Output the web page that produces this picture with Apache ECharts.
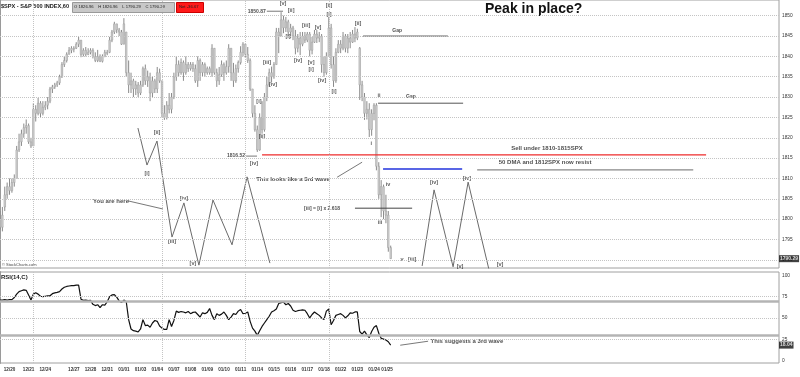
<!DOCTYPE html>
<html>
<head>
<meta charset="utf-8">
<title>$SPX - Peak in place?</title>
<script src="https://cdn.jsdelivr.net/npm/echarts@6/dist/echarts.min.js"></script>
<style>
html, body { margin: 0; padding: 0; background: #fff; }
#chart { width: 800px; height: 377px; }
</style>
</head>
<body>
<div id="chart"></div>
<script>
// hourly bars, one per slot: [open, close, low, high]
const priceBars = [
  [1800, 1798, 1797.5, 1802], [1798, 1801, 1797, 1803], [1803, 1806, 1802, 1808], [1806, 1808, 1805, 1809],
  [1808, 1807, 1806, 1810], [1807, 1809, 1806.5, 1810], [1809, 1810, 1808, 1811], [1810, 1817, 1810, 1818],
  [1817, 1819, 1816.5, 1821], [1819, 1821, 1818, 1822], [1821, 1822.5, 1820, 1823.5], [1822.5, 1823, 1821, 1824.5],
  [1823, 1819, 1818.5, 1823.5], [1819, 1818, 1817.5, 1820], [1818, 1827, 1818, 1828.5], [1827, 1826, 1824, 1828],
  [1826, 1828.5, 1825.5, 1829.8], [1828.5, 1826, 1825, 1829], [1826, 1827.5, 1825.5, 1829], [1827.5, 1828, 1826.8, 1829],
  [1828, 1829, 1827, 1830], [1829, 1832, 1828.5, 1832.5], [1832, 1832.5, 1831, 1833], [1832.5, 1833, 1832, 1833.5],
  [1833, 1833.5, 1832.5, 1834], [1833.5, 1835, 1833, 1835.5], [1835, 1838, 1834.7, 1838.6], [1838, 1839, 1837.4, 1840],
  [1839, 1840.5, 1838.5, 1841], [1840.5, 1841.5, 1840.5, 1842.3], [1841.5, 1842, 1840.8, 1842.5], [1842, 1842, 1841, 1842.5],
  [1842, 1843, 1841.8, 1843.5], [1843, 1844, 1842.3, 1844.8], [1844, 1840.5, 1839.8, 1844], [1840.5, 1841.5, 1840, 1842],
  [1841.5, 1840.5, 1840, 1842.3], [1840.5, 1841, 1840.3, 1842], [1841, 1841.5, 1840.5, 1842], [1841.5, 1840, 1839.5, 1842],
  [1840, 1839, 1838.6, 1841], [1839, 1840, 1838.6, 1841.6], [1840, 1838.8, 1838.6, 1840.5], [1838.8, 1840, 1838.5, 1840.5],
  [1840, 1841, 1839.8, 1841.6], [1841, 1841, 1840.3, 1841.6], [1841, 1844, 1840.8, 1844.8], [1844, 1846, 1843.5, 1846.5],
  [1846, 1848, 1845.5, 1848.5], [1848, 1846.5, 1845.7, 1848], [1846.5, 1846, 1845, 1847], [1846, 1843, 1842.8, 1846.5],
  [1843, 1848, 1843, 1849.4], [1846, 1836, 1835, 1846], [1836, 1833, 1831, 1839], [1833, 1834, 1831, 1836],
  [1834, 1832, 1830, 1834.5], [1832, 1833, 1830.5, 1834], [1833, 1831, 1830, 1833.7], [1831, 1833, 1830.5, 1834],
  [1833, 1837, 1832.5, 1837.5], [1837, 1834, 1833, 1838], [1834, 1835, 1832.5, 1836.5], [1835, 1831, 1829, 1836],
  [1831, 1834, 1830, 1835], [1834, 1832, 1831, 1834.5], [1832, 1836, 1831, 1837.4], [1836, 1834, 1833.5, 1837],
  [1834, 1826, 1825, 1834], [1826, 1825, 1824.4, 1828], [1825, 1828, 1824.5, 1829], [1828, 1827, 1826, 1831],
  [1827, 1830, 1826, 1831], [1830, 1835, 1829.5, 1836], [1835, 1838, 1834, 1840], [1838, 1836, 1835, 1839],
  [1836, 1838.5, 1835.5, 1839.5], [1838.5, 1836, 1834, 1839], [1836, 1838, 1835.5, 1840], [1838, 1837, 1836.2, 1838.6],
  [1837, 1838, 1836.5, 1838.6], [1838, 1837, 1836.2, 1838.6], [1837, 1834, 1833.5, 1838], [1834, 1839, 1832.5, 1840],
  [1839, 1836, 1834, 1839.5], [1836, 1838, 1835, 1838.6], [1838, 1836, 1835, 1838.5], [1836, 1837, 1835.5, 1837.5],
  [1837, 1836, 1835.5, 1837.5], [1836, 1842, 1835, 1843], [1842, 1836, 1835.5, 1842], [1836, 1834, 1832.5, 1837],
  [1834, 1835.5, 1833, 1837.4], [1835.5, 1838, 1835, 1839], [1838, 1836, 1834, 1838.5], [1836, 1837.5, 1835.5, 1839],
  [1837.5, 1842, 1836, 1843], [1842, 1836, 1834, 1842], [1836, 1834, 1832.5, 1838.4], [1834, 1837, 1833.5, 1838],
  [1837, 1838.5, 1836, 1839], [1838.5, 1841, 1838, 1842.5], [1841, 1843, 1840, 1843.5], [1843, 1840.5, 1839.6, 1843.2],
  [1840.5, 1839, 1838.4, 1842.3], [1839, 1832, 1831.5, 1839.5], [1832, 1826, 1825, 1832], [1826, 1822, 1821.5, 1828],
  [1822, 1817, 1816.52, 1823], [1817, 1825, 1816.8, 1826], [1825, 1822, 1821, 1829], [1822, 1830, 1821.5, 1831],
  [1830, 1833, 1829, 1835], [1833, 1836, 1832.5, 1837], [1836, 1835, 1833.7, 1837.5], [1835, 1838, 1834.5, 1838.6],
  [1838, 1846, 1838, 1847], [1846, 1845, 1840.8, 1847], [1845, 1849, 1845, 1850.87], [1849, 1847, 1845.7, 1850],
  [1847, 1848.5, 1846, 1849.7], [1848.5, 1846, 1845, 1849], [1846, 1847, 1844.5, 1848], [1847, 1845, 1844, 1847.5],
  [1845, 1842, 1840.5, 1846.5], [1842, 1844.5, 1841, 1845.5], [1844.5, 1843, 1840.3, 1846], [1843, 1845, 1842.5, 1846],
  [1845, 1844, 1843.3, 1846], [1844, 1845.5, 1843.5, 1846], [1845.5, 1841.5, 1840, 1846], [1841.5, 1843.5, 1840.5, 1844.8],
  [1843.5, 1845.5, 1843.3, 1846.5], [1845.5, 1844.5, 1843.3, 1846.5], [1844.5, 1845, 1843.5, 1846], [1845, 1838, 1836, 1845.5],
  [1838, 1836, 1835, 1840], [1836, 1840, 1835.5, 1841], [1840, 1847, 1840, 1849.7], [1847, 1838, 1837, 1848],
  [1838, 1834, 1832.5, 1840], [1834, 1841, 1833.5, 1842], [1841, 1843, 1840.8, 1844], [1843, 1842, 1840.8, 1844],
  [1842, 1845, 1841.5, 1846], [1845, 1842, 1841, 1845.5], [1842, 1844.5, 1840.8, 1845.5], [1844.5, 1843.5, 1842, 1846],
  [1843.5, 1845.5, 1843.3, 1846.5], [1845.5, 1844.5, 1843.5, 1847.2], [1844.5, 1846, 1844, 1846.8], [1842, 1833, 1829.3, 1842.3],
  [1833, 1830, 1829, 1834], [1830, 1826, 1824.4, 1831], [1826, 1827, 1824.5, 1829], [1827, 1822, 1820.2, 1828.5],
  [1822, 1826, 1820.5, 1827], [1826, 1828, 1824.3, 1828.5], [1828, 1813, 1812, 1828.5], [1813, 1806, 1805, 1814],
  [1806, 1808, 1800.5, 1809.6], [1808, 1802, 1800, 1808.5], [1802, 1801, 1799, 1806], [1801, 1793, 1792, 1802],
  [1793, 1790.29, 1790.29, 1793.5]
];

// RSI(14) per slot
const rsiValues = [
  71, 71, 71.5, 71, 71.5, 71.5, 74, 78, 81, 82, 83, 82.5, 77, 71, 78, 79.5, 78, 75.5, 75, 75.5,
  76, 76, 78.5, 79.5, 80, 81, 84, 86, 87, 87.5, 88, 88, 88.5, 88.5, 72, 70.6, 71, 70.5, 70.6, 66,
  64.5, 65.5, 62, 65.5, 65, 69, 75, 77, 77.5, 74.5, 70, 68, 71, 69, 48, 37, 35, 34.5, 33.5, 37,
  48, 41, 41.5, 39, 44, 47, 46, 40.5, 38, 36.5, 36.5, 48, 40, 47, 58, 56.5, 57.5, 57, 56, 57.5,
  55, 56.5, 57, 54, 51, 56, 55, 56.5, 61, 53, 48, 55, 53, 54.5, 57, 53, 48, 51, 55, 54,
  58, 60, 55, 55.5, 57, 46, 38, 34.5, 29.5, 35, 40, 44, 48, 52, 57, 58.5, 60.5, 67, 68, 68.5,
  65.5, 67, 64, 59, 57.5, 58.5, 59, 59.5, 59, 55, 50, 54, 57, 55, 53, 50, 48, 58, 60.5, 42,
  47, 53, 54, 55, 53, 50, 52.5, 56, 55.5, 57, 57, 34, 31, 34.5, 30, 27, 34, 39, 41, 32,
  26, 25, 24, 22, 18.04
];

const dateSlots = [4, 12, 19, 31, 38, 45, 52, 59, 66, 73, 80, 87, 94, 101, 108, 115, 122, 129, 136, 143, 150, 157, 162.5];
const dateLabels = ['12/20', '12/21', '12/24', '12/27', '12/28', '12/31', '01/01', '01/03', '01/04', '01/07', '01/08',
  '01/09', '01/10', '01/11', '01/14', '01/15', '01/16', '01/17', '01/18', '01/22', '01/23', '01/24', '01/25'];
const weekSlots = [14, 68, 103, 138];

const priceTicks = [1790, 1795, 1800, 1805, 1810, 1815, 1820, 1825, 1830, 1835, 1840, 1845, 1850];
const rsiTicks = [0, 25, 50, 75, 100];

// drawn wave projections [slot, price]
const waveLeft = [[57.9, 1822.4], [61.7, 1813.3], [65.9, 1819.2], [72.2, 1795.6], [77.2, 1804], [83.5, 1788.7],
  [89.4, 1804.7], [97.4, 1793.7], [103.7, 1810.4], [113.3, 1789.2]];
const waveRight = [[177.2, 1788.5], [182.2, 1807.2], [190.2, 1788.3], [196.5, 1809.1], [205.3, 1787.5]];

const waveLabels = [
  [118.8, 1852.9, '[v]'], [122.2, 1851.4, '[ii]'], [120.9, 1844.8, '[i]'], [128.5, 1847.5, '[iii]'],
  [125.1, 1838.9, '[iv]'], [133.5, 1847.2, '[v]'], [130.6, 1838.6, '[v]'], [130.6, 1836.9, '[i]'],
  [138.1, 1852.4, '[ii]'], [138.1, 1850.4, '[i]'], [135.2, 1834.2, '[iv]'], [140.2, 1831.5, '[i]'],
  [150.3, 1848, '[ii]'], [155.8, 1818.5, 'i'], [159.1, 1830.3, 'ii'], [162.9, 1808.6, 'iv'], [159.5, 1799.3, 'iii'],
  [168.8, 1790.2, 'v'], [173, 1790.2, '[iii]'], [112.1, 1838.6, '[iii]'], [114.6, 1833, '[iv]'],
  [108.7, 1828.8, '[i]'], [110, 1820.2, '[ii]'], [106.6, 1813.8, '[iv]'],
  [61.7, 1811.3, '[i]'], [65.9, 1821.2, '[ii]'], [72.2, 1794.4, '[iii]'], [77.2, 1805.2, '[iv]'], [81, 1789, '[v]'],
  [182.2, 1808.9, '[iv]'], [193.1, 1788.3, '[v]'], [196, 1810.1, '[iv]'], [209.9, 1788.8, '[v]']
];

const chart = echarts.init(document.getElementById('chart'));

function renderBar(params, api) {
  const x = api.value(0);
  const hi = api.coord([x, api.value(4)]);
  const lo = api.coord([x, api.value(3)]);
  const op = api.coord([x, api.value(1)]);
  const cl = api.coord([x, api.value(2)]);
  const top = Math.min(op[1], cl[1]);
  const h = Math.max(Math.abs(op[1] - cl[1]), 1);
  return {
    type: 'group',
    children: [
      { type: 'line', shape: { x1: hi[0], y1: hi[1], x2: lo[0], y2: lo[1] }, style: { stroke: '#8a8a8a', lineWidth: 1 } },
      { type: 'rect', shape: { x: hi[0] - 0.8, y: top, width: 1.6, height: h }, style: { fill: '#d0d0d0', stroke: '#9a9a9a', lineWidth: 0.5 } }
    ]
  };
}

function segment(data, color, width, xi) {
  return {
    type: 'line', xAxisIndex: xi || 0, yAxisIndex: xi || 0, data: data, symbol: 'none', silent: true,
    lineStyle: { color: color, width: width }, animation: false, z: 3
  };
}

function note(x, y, text, opts, xi) {
  return {
    type: 'scatter', xAxisIndex: xi || 0, yAxisIndex: xi || 0, symbolSize: 0, silent: true, animation: false,
    data: [[x, y]],
    label: Object.assign({ show: true, formatter: text, position: 'inside', color: '#222', fontSize: 6,
      fontWeight: 'bold', fontFamily: 'Liberation Sans' }, opts || {})
  };
}

const dotted = { type: 'dotted', color: '#c4c4c4', width: 1 };

chart.setOption({
  animation: false,
  textStyle: { fontFamily: 'Liberation Sans' },
  grid: [
    { left: 0, right: 21, top: 0, height: 268, show: true, borderColor: '#a0a0a0', borderWidth: 1 },
    { left: 0, right: 21, top: 272, height: 91, show: true, borderColor: '#a0a0a0', borderWidth: 1 }
  ],
  xAxis: [
    { type: 'value', gridIndex: 0, min: 0, max: 327, axisLine: { show: false }, axisTick: { show: false },
      axisLabel: { show: false }, splitLine: { show: false } },
    { type: 'value', gridIndex: 1, min: 0, max: 327, axisLine: { show: false }, axisTick: { show: false },
      splitLine: { show: false },
      axisLabel: { customValues: dateSlots, fontSize: 4.6, fontWeight: 'bold', color: '#333', margin: 4,
        hideOverlap: false, formatter: v => dateLabels[dateSlots.indexOf(v)] || '' } }
  ],
  yAxis: [
    { type: 'value', gridIndex: 0, position: 'right', min: 1788, max: 1853.86, splitLine: { show: false },
      axisLine: { show: true, lineStyle: { color: '#9a9a9a', width: 2 } }, axisTick: { show: false },
      axisLabel: { customValues: priceTicks, fontSize: 4.8, color: '#333', margin: 3, formatter: v => String(v) } },
    { type: 'value', gridIndex: 1, position: 'right', min: -3, max: 104, splitLine: { show: false },
      axisLine: { show: true, lineStyle: { color: '#9a9a9a', width: 2 } }, axisTick: { show: false },
      axisLabel: { customValues: rsiTicks, fontSize: 4.8, color: '#333', margin: 3, formatter: v => String(v) } }
  ],
  graphic: [
    { type: 'text', left: 1, top: 3, style: { text: '$SPX - S&P 500 INDEX,60', fontSize: 5.6, fontWeight: 'bold', fill: '#222' } },
    { type: 'rect', left: 72, top: 2, shape: { width: 102, height: 10 }, style: { fill: '#c8c8c8', stroke: '#999' } },
    { type: 'text', left: 74, top: 4.5, style: { text: 'O 1826.96    H 1826.96    L 1790.29    C 1790.29', fontSize: 4.2, fill: '#222' } },
    { type: 'rect', left: 176, top: 2, shape: { width: 27, height: 10 }, style: { fill: '#ff1a1a', stroke: '#c00' } },
    { type: 'text', left: 179, top: 4.5, style: { text: 'Net -36.67', fontSize: 4.2, fill: '#222' } },
    { type: 'text', left: 485, top: 2, style: { text: 'Peak in place?', fontSize: 14, fontWeight: 'bold', fill: '#111' } },
    { type: 'text', left: 2, top: 263, style: { text: '© StockCharts.com', fontSize: 4, fill: '#444' } },
    { type: 'text', left: 1, top: 274, style: { text: 'RSI(14,C)', fontSize: 6, fontWeight: 'bold', fill: '#222' } }
  ],
  series: [
    {
      type: 'custom', xAxisIndex: 0, yAxisIndex: 0, renderItem: renderBar, animation: false, silent: true, z: 2,
      encode: { x: 0, y: [1, 2, 3, 4] },
      data: priceBars.map((b, i) => [i, b[0], b[1], b[2], b[3]]),
      markLine: {
        silent: true, symbol: 'none', label: { show: false }, lineStyle: dotted,
        data: priceTicks.map(p => ({ yAxis: p })).concat(weekSlots.map(s => ({ xAxis: s })))
      }
    },
    {
      type: 'line', xAxisIndex: 1, yAxisIndex: 1, symbol: 'none', silent: true, animation: false,
      data: rsiValues.map((v, i) => [i, v]), lineStyle: { color: '#111', width: 1.2 }, z: 4,
      markLine: {
        silent: true, symbol: 'none', label: { show: false },
        data: [
          { yAxis: 75, lineStyle: dotted }, { yAxis: 50, lineStyle: dotted }, { yAxis: 25, lineStyle: dotted },
          { yAxis: 70, lineStyle: { type: 'solid', color: '#b4b4b4', width: 2.5 } },
          { yAxis: 30, lineStyle: { type: 'solid', color: '#b4b4b4', width: 2.5 } }
        ].concat(weekSlots.map(s => ({ xAxis: s, lineStyle: dotted })))
      }
    },
    segment(waveLeft, '#6a6a6a', 1),
    segment(waveRight, '#6a6a6a', 1),
    segment([[112, 1851.1], [118.8, 1851.1]], '#555', 0.8),
    segment([[103.3, 1815.5], [107.9, 1815.5]], '#555', 0.8),
    segment([[152.4, 1845], [188, 1845]], '#555', 1),
    segment([[158.7, 1828.5], [194.4, 1828.5]], '#555', 1),
    segment([[110, 1815.8], [296.4, 1815.8]], '#ee2b2b', 1.2),
    segment([[160.8, 1812.3], [194, 1812.3]], '#2233dd', 1.5),
    segment([[200.3, 1812.1], [291, 1812.1]], '#888', 1.2),
    segment([[149, 1802.7], [173, 1802.7]], '#444', 1),
    segment([[141.5, 1810.3], [152, 1814]], '#555', 0.8),
    segment([[53.7, 1804.5], [68.4, 1802.5]], '#555', 0.8),
    segment([[168, 17.9], [179.7, 22.6]], '#555', 0.8, 1),
    {
      type: 'scatter', xAxisIndex: 0, yAxisIndex: 0, symbolSize: 0, silent: true, animation: false,
      data: waveLabels,
      label: { show: true, formatter: p => p.value[2], position: 'inside', color: '#333', fontSize: 5.5,
        fontWeight: 'bold' }
    },
    note(112, 1851.1, '1850.87', { position: 'left', distance: 1, fontSize: 5 }),
    note(103.3, 1815.5, '1816.52', { position: 'left', distance: 1, fontSize: 5 }),
    note(123, 1809.8, 'This looks like a 3rd wave'),
    note(46.6, 1804.5, 'You are here'),
    note(135.2, 1802.7, '[iii] = [i] x 2.618', { fontSize: 5 }),
    note(229.6, 1817.5, 'Sell under 1810-1815SPX'),
    note(228.8, 1814, '50 DMA and 1812SPX now resist'),
    note(166.7, 1846.3, 'Gap', { fontSize: 5 }),
    note(172.5, 1830, 'Gap', { fontSize: 5 }),
    note(196, 22.6, 'This suggests a 3rd wave', null, 1),
    note(327, 1790.29, '1790.29', { position: 'right', distance: 0, color: '#fff', backgroundColor: '#111',
      padding: [1, 1], fontSize: 5 }),
    note(327, 18.04, '18.04', { position: 'right', distance: 0, color: '#fff', backgroundColor: '#111',
      padding: [1, 1], fontSize: 5 }, 1)
  ]
});
</script>
</body>
</html>
